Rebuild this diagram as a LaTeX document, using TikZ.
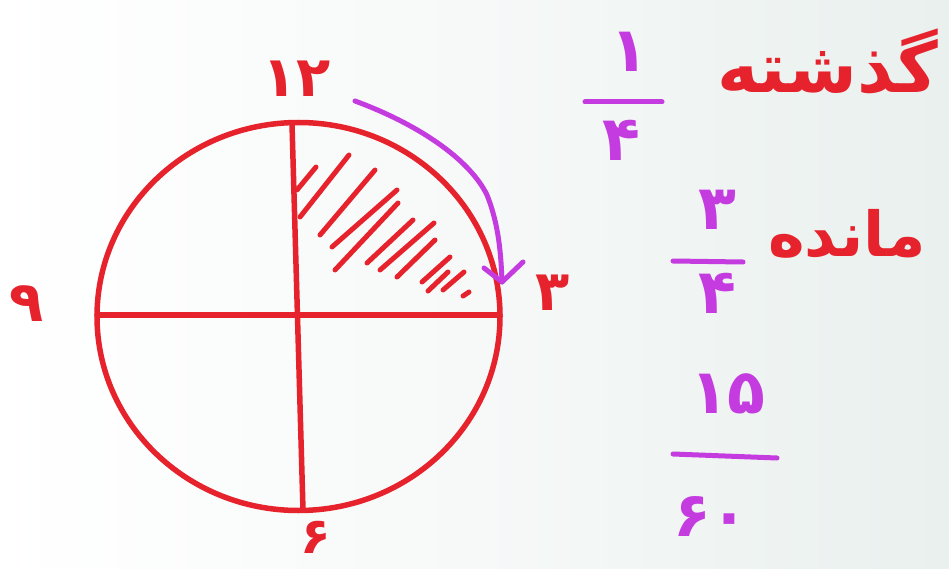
\documentclass[tikz,border=0pt]{standalone}
\usepackage{fontspec}
\usetikzlibrary{shapes.geometric}
\TeXXeTstate=1
\newfontfamily\fa[Script=Arabic]{DejaVu Sans Bold}
\definecolor{penred}{HTML}{E6232C}
\definecolor{penmag}{HTML}{C43CE0}
\definecolor{bgc}{HTML}{E9F0EE}
\tikzset{
  redline/.style={draw=penred,line width=5.5pt,line cap=round,line join=round},
  hatch/.style={draw=penred,line width=5pt,line cap=round},
  magline/.style={draw=penmag,line width=5pt,line cap=round,line join=round},
  rednum/.style={text=penred,font=\fa\fontsize{56}{60}\selectfont,inner sep=0pt},
  magnum/.style={text=penmag,font=\fa\fontsize{62}{66}\selectfont,inner sep=0pt},
  redword/.style={text=penred,font=\fa\fontsize{70}{76}\selectfont,inner sep=0pt},
  redword2/.style={text=penred,font=\fa\fontsize{62}{70}\selectfont,inner sep=0pt},
}
\begin{document}
\begin{tikzpicture}[x=1pt,y=-1pt]
\useasboundingbox (0,0) rectangle (949,569);
\shade[left color=white,right color=bgc,middle color=white!60!bgc] (0,0) rectangle (949,569);
% clock
\node[redline,ellipse,minimum width=403pt,minimum height=388pt,inner sep=0pt] (clock) at (298.5,316.5) {};
\coordinate (vtop) at (292,124);
\coordinate (vbot) at (303,510);
\coordinate (hl) at (97,315);
\coordinate (hr) at (500,315);
\draw[redline] (vtop) -- (vbot);
\draw[redline] (hl) -- (hr);
% hatching
\draw[hatch] (297,190) -- (316,167);
\draw[hatch] (300,217) -- (349,155);
\draw[hatch] (320,235) -- (375,170);
\draw[hatch] (332,247) -- (397,190);
\draw[hatch] (335,270) -- (398,203);
\draw[hatch] (367,263) -- (413,220);
\draw[hatch] (380,270) -- (434,223);
\draw[hatch] (397,277) -- (435,240);
\draw[hatch] (422,282) -- (450,257);
\draw[hatch] (428,291) -- (448,272);
\draw[hatch] (443,290) -- (464,272);
\draw[hatch] (463,296) -- (469,292);
% arrow
\coordinate (astart) at (355,101);
\coordinate (atip) at (502,282);
\coordinate (aleft) at (484,268);
\coordinate (aright) at (523,262);
\draw[magline] (astart) .. controls (420,125) and (470,160) .. (487,195) .. controls (499,225) and (501,255) .. (atip);
\draw[magline] (aleft) -- (atip) -- (aright);
% clock numbers
\node[rednum] (n12) at (297,79) {۱۲};
\node[rednum] (n9) at (27,304) {۹};
\node[rednum] (n3) at (553,293) {۳};
\node[rednum,font=\fa\fontsize{50}{56}\selectfont] (n6) at (316,537) {۶};
% right side
\node[redword] (w1) at (828,62) {\beginR گذشته\endR};
\node[magnum] (f1n) at (629,52) {۱};
\coordinate (b1l) at (585,102);
\coordinate (b1r) at (662,102);
\draw[magline] (b1l) -- (b1r);
\node[magnum] (f1d) at (621,140) {۴};
\node[redword2] (w2) at (847,234) {\beginR مانده\endR};
\node[magnum] (f2n) at (717,210) {۳};
\coordinate (b2l) at (673,261);
\coordinate (b2r) at (743,262);
\draw[magline] (b2l) -- (b2r);
\node[magnum] (f2d) at (717,293) {۴};
\node[magnum] (f3n) at (728,394) {۱۵};
\coordinate (b3l) at (673,454);
\coordinate (b3r) at (777,458);
\draw[magline] (b3l) -- (b3r);
\node[magnum] (f3d) at (711,516) {۶۰};
\end{tikzpicture}
\end{document}
